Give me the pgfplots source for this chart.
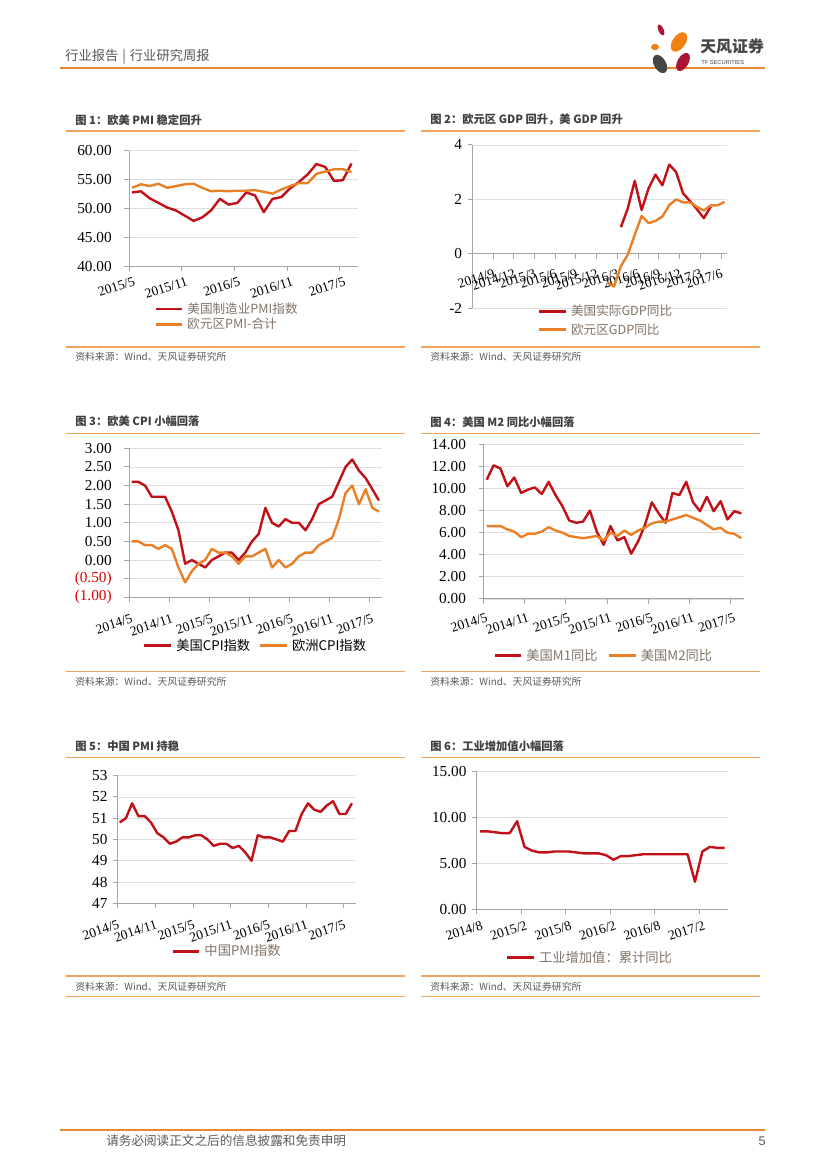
\documentclass[border=0pt]{standalone}
\usepackage{pgfplots}
\pgfplotsset{compat=1.18}
\usepackage{pgfplotstable}
\usepackage{fontspec}
\setmainfont{Liberation Serif}
\newfontfamily\cjk{Noto Sans CJK SC}
\newfontfamily\sans{Liberation Sans}

\definecolor{usred}{RGB}{192,16,24}
\definecolor{euor}{RGB}{232,128,40}
\definecolor{axgray}{RGB}{165,165,165}
\definecolor{grgray}{RGB}{222,222,222}
\definecolor{leggray}{RGB}{130,116,104}
\definecolor{sepor}{RGB}{240,165,95}
\definecolor{hdror}{RGB}{232,135,50}
\definecolor{txtgray}{RGB}{89,89,89}
\definecolor{ttlgray}{RGB}{64,64,64}
\definecolor{negred}{RGB}{220,0,0}
\definecolor{logogray}{RGB}{70,70,70}
\definecolor{logored}{RGB}{170,20,50}
\definecolor{logoor}{RGB}{240,130,20}

\pgfplotstableread{
r o
52.8 53.6
53.0 54.2
51.8 53.9
51.0 54.3
50.2 53.6
49.7 53.9
48.8 54.2
47.9 54.3
48.5 53.6
49.7 53.0
51.7 53.1
50.7 53.0
51.0 53.1
52.8 53.1
52.3 53.2
49.4 52.9
51.7 52.6
52.0 53.3
53.5 53.9
54.6 54.4
55.9 54.4
57.7 56.0
57.2 56.4
54.8 56.8
54.9 56.8
57.8 56.3
}\tA

\pgfplotstableread{
o
-1.05
-1.2
-0.45
-0.03
0.7
1.39
1.13
1.21
1.37
1.79
2.0
1.89
1.89
1.73
1.59
1.78
1.78
1.91
}\tBo

\pgfplotstableread{
r
0.98
1.67
2.68
1.61
2.4
2.91
2.52
3.28
3.0
2.22
1.94
1.64
1.31
1.73
}\tBr

\pgfplotstableread{
r o
2.1 0.5
2.1 0.5
2.0 0.4
1.7 0.4
1.7 0.3
1.7 0.4
1.3 0.3
0.8 -0.2
-0.1 -0.6
0.0 -0.3
-0.1 -0.1
-0.2 0.0
0.0 0.3
0.1 0.2
0.2 0.2
0.2 0.1
0.0 -0.1
0.2 0.1
0.5 0.1
0.7 0.2
1.4 0.3
1.0 -0.2
0.9 0.0
1.1 -0.2
1.0 -0.1
1.0 0.1
0.8 0.2
1.1 0.2
1.5 0.4
1.6 0.5
1.7 0.6
2.1 1.1
2.5 1.8
2.7 2.0
2.4 1.5
2.2 1.9
1.9 1.4
1.6 1.3
}\tC

\pgfplotstableread{
r o
10.8 6.6
12.1 6.6
11.8 6.6
10.2 6.3
11.0 6.1
9.6 5.6
9.9 5.9
10.1 5.9
9.5 6.1
10.6 6.5
9.4 6.2
8.4 6.0
7.1 5.7
6.9 5.6
7.0 5.5
8.0 5.6
6.1 5.7
4.9 5.3
6.6 6.0
5.3 5.7
5.6 6.2
4.1 5.8
5.2 6.2
6.7 6.45
8.75 6.85
7.75 7.0
6.9 7.0
9.6 7.2
9.4 7.4
10.6 7.6
8.75 7.35
7.95 7.1
9.25 6.7
7.95 6.3
8.85 6.45
7.2 6.0
7.95 5.9
7.75 5.5
}\tD

\pgfplotstableread{
v
50.8
51.0
51.7
51.1
51.1
50.8
50.3
50.1
49.8
49.9
50.1
50.1
50.2
50.2
50.0
49.7
49.8
49.8
49.6
49.7
49.4
49.0
50.2
50.1
50.1
50.0
49.9
50.4
50.4
51.2
51.7
51.4
51.3
51.6
51.8
51.2
51.2
51.7
}\tE

\pgfplotstableread{
v
8.5
8.5
8.4
8.3
8.3
9.6
6.8
6.4
6.2
6.2
6.3
6.3
6.3
6.2
6.1
6.1
6.1
5.9
5.4
5.8
5.8
5.9
6.0
6.0
6.0
6.0
6.0
6.0
6.0
3.0
6.3
6.8
6.7
6.7
}\tF

\pgfplotsset{
  pg/.style={
    scale only axis, anchor=south west,
    axis x line*=bottom, axis y line*=left,
    axis line style={draw=axgray, line width=0.75bp},
    tick style={draw=axgray, line width=0.75bp},
    tick align=outside, major tick length=3.5bp,
    ymajorgrids, major grid style={draw=grgray, line width=0.6bp},
    ticklabel style={font=\fontsize{11.5}{12}\selectfont, text=black},
    xticklabel style={font=\fontsize{10.2}{11}\selectfont, anchor=north east, inner sep=1bp},
    yticklabel style={inner sep=2bp},
    /pgf/number format/assume math mode=true,
    legend style={draw=none, fill=none, font=\cjk\fontsize{9.5}{11}\selectfont, text=leggray,
      inner sep=0pt, nodes={inner sep=0.5bp, text height=8.5bp, text depth=2bp}},
    legend cell align=left,
    legend image code/.code={\draw[#1, line width=2bp] (0bp,0bp) -- (20bp,0bp); \path (22.5bp,0bp);},
    every axis plot/.append style={line width=1.8bp, line join=round, no markers},
  },
  yfix/.style={yticklabel style={/pgf/number format/fixed, /pgf/number format/fixed zerofill, /pgf/number format/precision=2}},
  farlab/.style={yticklabel style={/tikz/xshift=-7.3bp}},
  nearlab/.style={yticklabel style={/tikz/xshift=-2bp}},
  xlab/.style 2 args={xticklabel style={/tikz/xshift=#1, /tikz/yshift=#2, /tikz/rotate=18}},
}

\begin{document}
\begin{tikzpicture}
\begin{scope}[x=0.75bp,y=0.75bp]
\fill[white] (0,0) rectangle (827,1169);
% header
\node[anchor=west, inner sep=0pt, font=\cjk\fontsize{10}{12}\selectfont, text=txtgray] at (65,1112) {行业报告\hspace{0.3em}|\hspace{0.3em}行业研究周报};
\draw[hdror, line width=1.6bp] (60,1101) -- (765,1101);
% logo
\fill[logored, rotate around={25:(661,1139)}] (661,1139) ellipse (2.6 and 6);
\fill[logoor, rotate around={-35:(679,1127)}] (679,1127) ellipse (6.5 and 11);
\fill[logoor] (655,1122) ellipse (4 and 3.2);
\fill[logogray, rotate around={30:(660,1105)}] (660,1105) ellipse (6 and 10);
\fill[logored, rotate around={-30:(683,1107)}] (683,1107) ellipse (5.5 and 10);
\node[anchor=west, inner sep=0pt, font=\cjk\bfseries\fontsize{12}{13}\selectfont, text=logogray] at (700,1123) {天风证券};
\node[anchor=west, inner sep=0pt, font=\sans\fontsize{4.3}{5}\selectfont, text=logogray] at (701,1106) {TF SECURITIES};
% footer
\draw[hdror, line width=1.6bp] (60,39) -- (765,39);
\node[anchor=west, inner sep=0pt, font=\cjk\fontsize{9.5}{11}\selectfont, text=txtgray] at (106,28) {请务必阅读正文之后的信息披露和免责申明};
\node[anchor=east, inner sep=0pt, font=\sans\fontsize{9.5}{11}\selectfont, text=txtgray] at (766,28) {5};
% titles
\begin{scope}[every node/.style={anchor=west, inner sep=0pt, font=\cjk\bfseries\fontsize{8.5}{10}\selectfont, text=ttlgray}]
\node at (75,1049) {图 1：欧美 PMI 稳定回升};
\node at (430,1049) {图 2：欧元区 GDP 回升，美 GDP 回升};
\node at (75,747.3) {图 3：欧美 CPI 小幅回落};
\node at (430,747.3) {图 4：美国 M2 同比小幅回落};
\node at (75,423) {图 5：中国 PMI 持稳};
\node at (430,423) {图 6：工业增加值小幅回落};
\end{scope}
\begin{scope}[sepor, line width=1.1bp]
\foreach \yy in {1038,735.7,411.7,822,497.3,193,172.3} {
  \draw (66,\yy) -- (405,\yy);
  \draw (421,\yy) -- (760,\yy);
}
\end{scope}
\begin{scope}[every node/.style={anchor=west, inner sep=0pt, font=\cjk\fontsize{7.4}{9}\selectfont, text=txtgray}]
\foreach \yy in {812,487.3,182.3} {
  \node at (75,\yy) {资料来源：Wind、天风证券研究所};
  \node at (430,\yy) {资料来源：Wind、天风证券研究所};
}
\end{scope}
\coordinate (A1) at (129,902.3);
\coordinate (A2) at (472.3,860.7);
\coordinate (A3) at (129,571.7);
\coordinate (A4) at (483.3,570);
\coordinate (A5) at (117.7,265.7);
\coordinate (A6) at (476.7,259.7);
\end{scope}

% chart 1
\begin{axis}[pg, yfix, farlab, xlab={3.75bp}{-2.5bp}, at={(A1)}, width=171.5bp, height=87bp,
  xmin=0, xmax=26.05, ymin=40, ymax=60,
  xtick={0,6,12,18,24}, xticklabels={2015/5,2015/11,2016/5,2016/11,2017/5},
  ytick={40,45,50,55,60},
  legend style={at={(0.109,-0.431)}, anchor=west}]
\addplot[usred] table[x expr=\coordindex+0.35, y=r]{\tA};
\addplot[euor] table[x expr=\coordindex+0.35, y=o]{\tA};
\legend{美国制造业PMI指数, 欧元区PMI-合计}
\end{axis}

% chart 2
\begin{axis}[pg, nearlab, xlab={0.5bp}{-6bp}, at={(A2)}, width=191.25bp, height=122.5bp,
  axis x line*=middle,
  xmin=0, xmax=36.9, ymin=-2, ymax=4,
  xtick={0,3,...,36},
  xticklabels={2014/6,2014/9,2014/12,2015/3,2015/6,2015/9,2015/12,2016/3,2016/6,2016/9,2016/12,2017/3,2017/6},
  ytick={-2,0,2,4},
  legend style={at={(0.256,-0.075)}, anchor=west, row sep=2.2bp}]
\addplot[usred] table[x expr=\coordindex+21.5, y=r]{\tBr};
\addplot[euor] table[x expr=\coordindex+19.5, y=o]{\tBo};
\legend{美国实际GDP同比, 欧元区GDP同比}
\end{axis}

% chart 3
\begin{axis}[pg, farlab, xlab={2bp}{-7.5bp}, at={(A3)}, width=189.5bp, height=111.75bp,
  xmin=0, xmax=37.8, ymin=-1, ymax=3,
  xtick={0,6,...,36}, xticklabels={2014/5,2014/11,2015/5,2015/11,2016/5,2016/11,2017/5},
  ytick={-1,-0.5,0,0.5,1,1.5,2,2.5,3},
  yticklabels={{\textcolor{negred}{(1.00)}},{\textcolor{negred}{(0.50)}},0.00,0.50,1.00,1.50,2.00,2.50,3.00},
  legend columns=2,
  legend style={at={(0.055,-0.325)}, anchor=west, text=black, font=\cjk\fontsize{10}{11}\selectfont, /tikz/every even column/.append style={column sep=6bp}}]
\addplot[usred] table[x expr=\coordindex+0.4, y=r]{\tC};
\addplot[euor] table[x expr=\coordindex+0.4, y=o]{\tC};
\legend{美国CPI指数, 欧洲CPI指数}
\end{axis}

% chart 4
\begin{axis}[pg, yfix, farlab, xlab={2.5bp}{-5bp}, at={(A4)}, width=195.5bp, height=116bp,
  xmin=0, xmax=37.9, ymin=0, ymax=14,
  xtick={0,6,...,36}, xticklabels={2014/5,2014/11,2015/5,2015/11,2016/5,2016/11,2017/5},
  ytick={0,2,...,14},
  legend columns=2,
  legend style={at={(0.037,-0.367)}, anchor=west, font=\cjk\fontsize{10}{11}\selectfont, /tikz/every even column/.append style={column sep=7bp}}]
\addplot[usred] table[x expr=\coordindex+0.5, y=r]{\tD};
\addplot[euor] table[x expr=\coordindex+0.5, y=o]{\tD};
\legend{美国M1同比, 美国M2同比}
\end{axis}

% chart 5
\begin{axis}[pg, nearlab, xlab={0.5bp}{-7.5bp}, at={(A5)}, width=178.5bp, height=95.7bp,
  xmin=0, xmax=37.9, ymin=47, ymax=53,
  xtick={0,6,...,36}, xticklabels={2014/5,2014/11,2015/5,2015/11,2016/5,2016/11,2017/5},
  ytick={47,48,...,53},
  legend style={at={(0.224,-0.379)}, anchor=west, font=\cjk\fontsize{10}{11}\selectfont}]
\addplot[usred] table[x expr=\coordindex+0.3, y=v]{\tE};
\legend{中国PMI指数}
\end{axis}

% chart 6
\begin{axis}[pg, yfix, nearlab, xlab={3.75bp}{-3.5bp}, at={(A6)}, width=188.7bp, height=103.2bp,
  xmin=0, xmax=33.95, ymin=0, ymax=15,
  xtick={0,6,...,30}, xticklabels={2014/8,2015/2,2015/8,2016/2,2016/8,2017/2},
  ytick={0,5,10,15},
  legend style={at={(0.115,-0.352)}, anchor=west, font=\cjk\fontsize{10}{11}\selectfont}]
\addplot[usred] table[x expr=\coordindex+0.45, y=v]{\tF};
\legend{工业增加值：累计同比}
\end{axis}
\end{tikzpicture}
\end{document}
